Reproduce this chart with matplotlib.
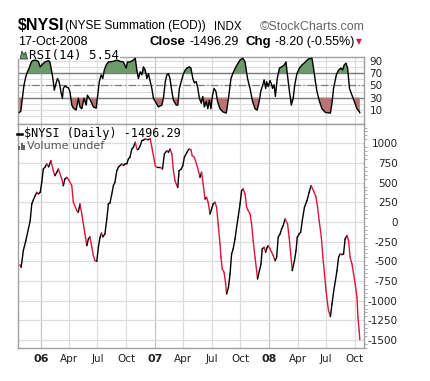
import numpy as np
import pandas as pd
import matplotlib
matplotlib.use('Agg')
import matplotlib.pyplot as plt
import matplotlib.dates as mdates
from matplotlib.collections import LineCollection
from matplotlib.patches import Polygon, Rectangle
from matplotlib.lines import Line2D

W, H = 431, 381

# $NYSI daily summation index
nysi_dates = [
    '2005-10-26', '2005-10-30', '2005-11-06', '2005-11-14', '2005-11-28', '2005-12-03',
    '2005-12-08', '2005-12-14', '2005-12-19', '2005-12-24', '2005-12-30', '2006-01-04',
    '2006-01-09', '2006-01-14', '2006-01-20', '2006-01-26', '2006-02-02', '2006-02-10',
    '2006-02-15', '2006-02-21', '2006-02-26', '2006-03-09', '2006-03-14', '2006-03-19',
    '2006-03-25', '2006-04-01', '2006-04-10', '2006-04-15', '2006-04-26', '2006-05-01',
    '2006-05-06', '2006-05-12', '2006-05-17', '2006-05-22', '2006-05-28', '2006-06-02',
    '2006-06-07', '2006-06-13', '2006-06-18', '2006-06-23', '2006-06-29', '2006-07-04',
    '2006-07-09', '2006-07-14', '2006-07-18', '2006-07-25', '2006-07-31', '2006-08-05',
    '2006-08-10', '2006-08-16', '2006-08-21', '2006-08-26', '2006-09-01', '2006-09-06',
    '2006-09-11', '2006-09-17', '2006-09-22', '2006-09-27', '2006-10-03', '2006-10-08',
    '2006-10-13', '2006-10-19', '2006-10-24', '2006-10-30', '2006-11-04', '2006-11-09',
    '2006-11-15', '2006-11-20', '2006-11-25', '2006-12-01', '2006-12-09', '2006-12-17',
    '2006-12-22', '2006-12-27', '2007-01-02', '2007-01-07', '2007-01-18', '2007-01-25',
    '2007-01-31', '2007-02-08', '2007-02-13', '2007-02-18', '2007-02-24', '2007-03-01',
    '2007-03-06', '2007-03-12', '2007-03-15', '2007-03-19', '2007-03-26', '2007-03-31',
    '2007-04-05', '2007-04-13', '2007-04-20', '2007-04-26', '2007-04-30', '2007-05-07',
    '2007-05-17', '2007-05-25', '2007-05-30', '2007-06-04', '2007-06-10', '2007-06-15',
    '2007-06-20', '2007-06-26', '2007-07-01', '2007-07-06', '2007-07-12', '2007-07-17',
    '2007-07-22', '2007-07-28', '2007-07-31', '2007-08-04', '2007-08-10', '2007-08-15',
    '2007-08-18', '2007-08-24', '2007-08-29', '2007-09-03', '2007-09-08', '2007-09-14',
    '2007-09-19', '2007-09-24', '2007-09-30', '2007-10-05', '2007-10-10', '2007-10-16',
    '2007-10-21', '2007-10-26', '2007-11-01', '2007-11-06', '2007-11-11', '2007-11-17',
    '2007-11-22', '2007-11-25', '2007-12-01', '2007-12-06', '2007-12-10', '2007-12-16',
    '2007-12-21', '2007-12-25', '2007-12-29', '2008-01-04', '2008-01-09', '2008-01-14',
    '2008-01-20', '2008-01-25', '2008-01-30', '2008-02-05', '2008-02-10', '2008-02-15',
    '2008-02-21', '2008-02-29', '2008-03-05', '2008-03-10', '2008-03-15', '2008-03-22',
    '2008-03-27', '2008-03-31', '2008-04-06', '2008-04-11', '2008-04-16', '2008-04-23',
    '2008-05-01', '2008-05-08', '2008-05-14', '2008-05-22', '2008-05-30', '2008-06-04',
    '2008-06-09', '2008-06-16', '2008-06-21', '2008-06-26', '2008-07-01', '2008-07-06',
    '2008-07-09', '2008-07-15', '2008-07-20', '2008-07-25', '2008-07-31', '2008-08-05',
    '2008-08-10', '2008-08-15', '2008-08-21', '2008-08-26', '2008-08-31', '2008-09-06',
    '2008-09-11', '2008-09-16', '2008-09-22', '2008-09-27', '2008-10-02', '2008-10-08',
    '2008-10-11', '2008-10-15', '2008-10-17',
]
nysi_values = [
    -542, -576, -365, -237, 16, 229,
    280, 334, 377, 356, 377, 504,
    673, 695, 737, 700, 779, 652,
    588, 630, 673, 546, 461, 546,
    567, 530, 461, 250, 144, 123,
    229, 102, -25, -152, -301, -216,
    -190, -322, -428, -492, -500, -322,
    -200, -140, -190, -152, 38, 229,
    240, 356, 461, 504, 652, 695,
    716, 737, 716, 737, 740, 800,
    822, 927, 949, 1013, 927, 927,
    970, 1034, 1040, 1055, 1045, 1055,
    949, 843, 716, 695, 695, 673,
    864, 906, 885, 927, 864, 652,
    525, 461, 440, 652, 673, 716,
    822, 885, 927, 918, 843, 822,
    695, 568, 632, 483, 292, 314,
    250, 102, 165, 229, 250, 187,
    -25, -279, -449, -597, -640, -787,
    -915, -830, -661, -407, -343, -216,
    -67, 60, 229, 398, 419, 356,
    187, 144, 102, -25, -237, -449,
    -619, -724, -619, -534, -343, -322,
    -385, -330, -301, -343, -385, -428,
    -492, -450, -195, -152, -89, -46,
    38, -25, -195, -407, -619, -492,
    -365, -195, -152, -130, 16, 187,
    271, 377, 461, 398, 314, 187,
    16, -195, -449, -661, -873, -1042,
    -1127, -1203, -1042, -893, -746, -619,
    -449, -407, -415, -407, -216, -173,
    -237, -449, -534, -661, -787, -957,
    -1211, -1381, -1496.29,
]

# RSI(14) of $NYSI
rsi_dates = [
    '2005-10-24', '2005-10-29', '2005-11-03', '2005-11-08', '2005-11-14', '2005-11-19',
    '2005-11-24', '2005-11-30', '2005-12-05', '2005-12-14', '2005-12-24', '2005-12-30',
    '2006-01-04', '2006-01-14', '2006-01-25', '2006-01-30', '2006-02-05', '2006-02-10',
    '2006-02-13', '2006-02-19', '2006-02-23', '2006-02-27', '2006-03-03', '2006-03-06',
    '2006-03-11', '2006-03-14', '2006-03-19', '2006-03-25', '2006-03-30', '2006-04-04',
    '2006-04-10', '2006-04-15', '2006-04-24', '2006-05-01', '2006-05-06', '2006-05-12',
    '2006-05-19', '2006-05-26', '2006-05-30', '2006-06-05', '2006-06-13', '2006-06-18',
    '2006-06-27', '2006-07-02', '2006-07-07', '2006-07-13', '2006-07-18', '2006-07-23',
    '2006-07-29', '2006-08-05', '2006-08-21', '2006-09-01', '2006-09-11', '2006-09-22',
    '2006-10-01', '2006-10-05', '2006-10-13', '2006-10-24', '2006-10-30', '2006-11-04',
    '2006-11-09', '2006-11-15', '2006-11-20', '2006-11-25', '2006-12-01', '2006-12-06',
    '2006-12-11', '2006-12-17', '2006-12-22', '2006-12-27', '2007-01-05', '2007-01-12',
    '2007-01-23', '2007-01-28', '2007-02-03', '2007-02-08', '2007-02-13', '2007-02-18',
    '2007-02-24', '2007-03-01', '2007-03-10', '2007-03-15', '2007-03-20', '2007-03-26',
    '2007-04-02', '2007-04-08', '2007-04-13', '2007-04-21', '2007-04-26', '2007-05-02',
    '2007-05-07', '2007-05-13', '2007-05-18', '2007-05-23', '2007-05-29', '2007-06-03',
    '2007-06-08', '2007-06-14', '2007-06-19', '2007-06-24', '2007-06-29', '2007-07-04',
    '2007-07-09', '2007-07-15', '2007-07-20', '2007-07-28', '2007-08-06', '2007-08-17',
    '2007-08-24', '2007-09-01', '2007-09-09', '2007-09-20', '2007-09-30', '2007-10-09',
    '2007-10-16', '2007-10-24', '2007-11-01', '2007-11-09', '2007-11-17', '2007-11-24',
    '2007-12-01', '2007-12-05', '2007-12-12', '2007-12-16', '2007-12-21', '2007-12-24',
    '2007-12-29', '2008-01-04', '2008-01-09', '2008-01-12', '2008-01-17', '2008-01-21',
    '2008-01-27', '2008-02-03', '2008-02-10', '2008-02-18', '2008-02-24', '2008-02-28',
    '2008-03-06', '2008-03-12', '2008-03-18', '2008-03-23', '2008-03-30', '2008-04-07',
    '2008-04-15', '2008-04-26', '2008-05-06', '2008-05-17', '2008-05-22', '2008-05-28',
    '2008-06-02', '2008-06-10', '2008-06-18', '2008-06-29', '2008-07-15', '2008-07-20',
    '2008-07-25', '2008-08-03', '2008-08-10', '2008-08-18', '2008-08-23', '2008-08-28',
    '2008-09-03', '2008-09-08', '2008-09-14', '2008-09-22', '2008-09-29', '2008-10-08',
    '2008-10-16', '2008-10-17',
]
rsi_values = [
    6, 8, 29, 50, 64, 72,
    77, 86, 90, 91, 89, 80,
    83, 88, 90, 88, 72, 56,
    42, 54, 61, 58, 50, 40,
    29, 45, 49, 47, 46, 40,
    18, 13, 10, 29, 15, 12,
    29, 18, 34, 29, 21, 15,
    13, 34, 56, 67, 61, 75,
    83, 88, 89, 91, 89, 88,
    78, 88, 88, 91, 94, 75,
    61, 72, 67, 80, 75, 61,
    69, 56, 45, 29, 21, 15,
    18, 29, 56, 67, 69, 61,
    40, 26, 18, 18, 45, 56,
    69, 75, 78, 80, 78, 61,
    54, 56, 45, 29, 21, 32,
    15, 24, 12, 26, 12, 34,
    45, 40, 24, 12, 7, 5,
    29, 61, 72, 83, 91, 94,
    88, 61, 45, 24, 12, 10,
    26, 40, 51, 59, 45, 56,
    48, 58, 51, 45, 51, 32,
    61, 78, 80, 83, 88, 69,
    40, 18, 29, 51, 69, 78,
    83, 88, 93, 94, 78, 56,
    40, 24, 12, 6, 5, 21,
    45, 67, 75, 78, 75, 83,
    86, 78, 45, 34, 24, 12,
    7, 5.54,
]

tick_dates = ['2006-01-01', '2006-04-01', '2006-07-01', '2006-10-01',
              '2007-01-01', '2007-04-01', '2007-07-01', '2007-10-01',
              '2008-01-01', '2008-04-01', '2008-07-01', '2008-10-01']
tick_labels = ['06', 'Apr', 'Jul', 'Oct', '07', 'Apr', 'Jul', 'Oct',
               '08', 'Apr', 'Jul', 'Oct']

main_ticks = [1000, 750, 500, 250, 0, -250, -500, -750, -1000, -1250, -1500]
rsi_ticks = [90, 70, 50, 30, 10]

UP = '#000000'
DOWN = '#dc143c'
GREEN = '#6b9a6b'
RED = '#b87474'
GRID = '#dddddd'
YEARGRID = '#c6c6c6'
SPINE = '#a0a0a0'


def fx(px):
    return px / W


def fy(py):
    return 1 - py / H


xd = mdates.date2num(pd.to_datetime(nysi_dates))
yv = np.array(nysi_values, dtype=float)
rx = mdates.date2num(pd.to_datetime(rsi_dates))
rv = np.array(rsi_values, dtype=float)
tx = mdates.date2num(pd.to_datetime(tick_dates))
xlim = mdates.date2num(pd.to_datetime(['2005-10-20', '2008-11-01']))

fig = plt.figure(figsize=(W / 100, H / 100), dpi=100)
ax_rsi = fig.add_axes([fx(18), fy(124), fx(364.5) - fx(18), fy(57) - fy(124)])
ax = fig.add_axes([fx(18), fy(348), fx(364.5) - fx(18), fy(124) - fy(348)])

for a in (ax_rsi, ax):
    a.set_xlim(*xlim)
    a.set_xticks(tx)
    for t, lab in zip(tx, tick_labels):
        col = YEARGRID if lab.isdigit() else GRID
        a.axvline(t, color=col, lw=0.9, zorder=0)
    for s in a.spines.values():
        s.set_color(SPINE)
        s.set_linewidth(1)
    a.yaxis.tick_right()
    a.tick_params(axis='x', length=0)

# ---- RSI panel ----
ax_rsi.set_ylim(-12.7, 96)
for g in range(0, 100, 10):
    ax_rsi.axhline(g, color=GRID, lw=0.8, zorder=0)
ax_rsi.axhline(70, color='#7a7a7a', lw=1, zorder=1)
ax_rsi.axhline(30, color='#7a7a7a', lw=1, zorder=1)
ax_rsi.axhline(50, color='#7a7a7a', lw=0.9, ls=(0, (6, 2, 1, 2)), zorder=1)
ax_rsi.fill_between(rx, rv, 70, where=rv > 70, interpolate=True, color=GREEN, lw=0, zorder=2)
ax_rsi.fill_between(rx, rv, 30, where=rv < 30, interpolate=True, color=RED, lw=0, zorder=2)
ax_rsi.plot(rx, rv, color='black', lw=1, zorder=3)
ax_rsi.set_yticks(rsi_ticks)
ax_rsi.set_yticklabels([str(t) for t in rsi_ticks])
ax_rsi.tick_params(axis='y', length=0, pad=3.5, labelsize=7.5, colors='#222222')
ax_rsi.set_xticklabels([])

# ---- main panel ----
ax.set_ylim(-1602, 1245)
for g in main_ticks + [1250]:
    ax.axhline(g, color=GRID, lw=0.9, zorder=0)
pts = np.column_stack([xd, yv])
segs = np.stack([pts[:-1], pts[1:]], axis=1)
cols = [UP if d >= 0 else DOWN for d in np.diff(yv)]
ax.add_collection(LineCollection(segs, colors=cols, linewidths=1.0, capstyle='round', zorder=3))
ax.set_yticks(main_ticks)
ax.set_yticklabels([str(t) for t in main_ticks])
for lab in ax.get_yticklabels():
    lab.set_horizontalalignment('right')
ax.tick_params(axis='y', length=0, pad=24, labelsize=7.5, colors='#222222')
ax.set_yticks(np.arange(-1600, 1250, 50), minor=True)
ax.tick_params(axis='y', which='minor', length=2, color=SPINE, width=0.6)
ax.set_xticklabels(tick_labels)
for lab in ax.get_xticklabels():
    if lab.get_text().isdigit():
        lab.set_fontweight('bold')
        lab.set_fontsize(8)
    else:
        lab.set_fontsize(7.5)
ax.tick_params(axis='x', pad=4, colors='#222222')

# ---- header ----
sans = 'Liberation Sans'
fig.text(fx(18), fy(30), r'\$NYSI', fontsize=11.5, fontweight='bold', family=sans, va='baseline')
fig.text(fx(65), fy(29.5), '(NYSE Summation (EOD))', fontsize=8.6, family=sans, va='baseline')
fig.text(fx(214), fy(29.5), 'INDX', fontsize=8.3, family=sans, va='baseline')
fig.text(fx(260), fy(29.5), '\u00a9StockCharts.com', fontsize=9, family=sans, va='baseline', color='#666666')
fig.text(fx(18), fy(45), '17-Oct-2008', fontsize=9, family=sans, va='baseline')
fig.text(fx(150), fy(45), 'Close', fontsize=9.5, fontweight='bold', family=sans, va='baseline')
fig.text(fx(190), fy(45), '-1496.29', fontsize=9, family=sans, va='baseline')
fig.text(fx(246), fy(45), 'Chg', fontsize=9.5, fontweight='bold', family=sans, va='baseline')
fig.text(fx(275), fy(45), '-8.20 (-0.55%)', fontsize=9, family=sans, va='baseline')
fig.text(fx(356), fy(44), '\u25bc', fontsize=5.5, family='DejaVu Sans', va='baseline', color=DOWN)

# ---- panel legends ----
mono = 'DejaVu Sans Mono'
fig.add_artist(Rectangle((fx(18.5), fy(59)), fx(102), fy(50) - fy(59), transform=fig.transFigure,
                         facecolor='white', edgecolor='none', zorder=5))
fig.add_artist(Polygon([(fx(20), fy(59)), (fx(22), fy(51)), (fx(24), fy(55)), (fx(25.5), fy(52)),
                        (fx(27.5), fy(59))], closed=True, transform=fig.transFigure,
                       facecolor=GREEN, edgecolor='#333333', lw=0.6, zorder=6))
fig.text(fx(29), fy(55), 'RSI(14) 5.54', fontsize=9, family=mono, va='center', zorder=7)

fig.add_artist(Line2D([fx(17), fx(22)], [fy(134), fy(134)], transform=fig.transFigure,
                      color='black', lw=1.8, zorder=6))
fig.text(fx(24), fy(134), r'\$NYSI (Daily) -1496.29', fontsize=8.5, family=mono, va='center', zorder=7)
for i, hgt in enumerate([4, 7, 5]):
    fig.add_artist(Rectangle((fx(18.5 + i * 2.5), fy(150)), fx(1.6), fy(150 - hgt) - fy(150),
                             transform=fig.transFigure, facecolor='#666666', edgecolor='none', zorder=6))
fig.text(fx(27), fy(146), 'Volume undef', fontsize=8, family='DejaVu Sans', va='center',
         color='#555555', zorder=7)

fig.savefig('out.png', dpi=100, facecolor='white')
